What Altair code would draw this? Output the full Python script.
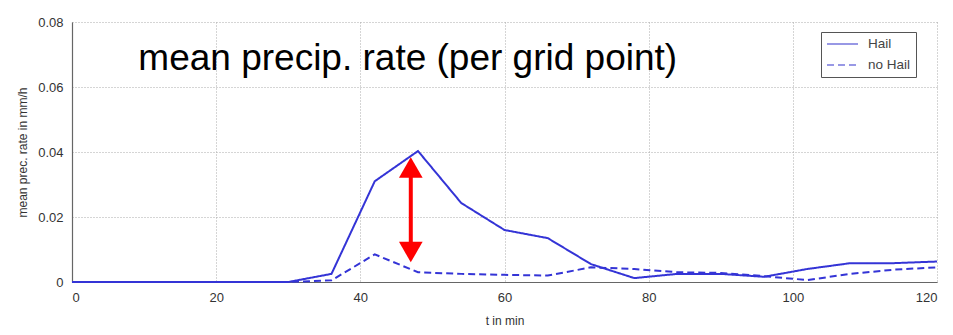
import altair as alt
import pandas as pd

t_min = [0, 6, 12, 18, 24, 30, 36, 42, 48, 54, 60, 66, 72, 78, 84, 90, 96, 102, 108, 114, 120]
hail = [0, 0, 0, 0, 0, 0, 0.0025, 0.031, 0.0403, 0.0243, 0.016, 0.0135, 0.0055, 0.0012, 0.0025, 0.0025,
        0.0016, 0.004, 0.0058, 0.0058, 0.0063]
no_hail = [0, 0, 0, 0, 0, 0, 0.0005, 0.0085, 0.003, 0.0025, 0.0022, 0.002, 0.0045, 0.004, 0.003, 0.0028,
           0.0018, 0.0006, 0.0025, 0.0038, 0.0045]
series_names = ["Hail", "no Hail"]

arrow_t = [47]
arrow_top = [0.0352]
arrow_bottom = [0.0092]

title_text = ["mean precip. rate (per grid point)"]
title_t = [9.2]
title_v = [0.0652]

rows = []
for t, a, b in zip(t_min, hail, no_hail):
    rows.append({"t": t, "v": a, "series": series_names[0]})
    rows.append({"t": t, "v": b, "series": series_names[1]})
df = pd.DataFrame(rows)

arrow_df = pd.DataFrame({"t": arrow_t, "top": arrow_top, "bottom": arrow_bottom})
title_df = pd.DataFrame({"t": title_t, "v": title_v, "label": title_text})

xscale = alt.Scale(domain=[0, 120], nice=False)
yscale = alt.Scale(domain=[0, 0.08], nice=False)

BLUE = "#3434d6"

lines = alt.Chart(df).mark_line(strokeWidth=2, color=BLUE).encode(
    x=alt.X("t:Q", scale=xscale, title="t in min",
            axis=alt.Axis(values=[0, 20, 40, 60, 80, 100, 120], format="~g")),
    y=alt.Y("v:Q", scale=yscale, title="mean prec. rate in mm/h",
            axis=alt.Axis(values=[0, 0.02, 0.04, 0.06, 0.08], format="~g")),
    strokeDash=alt.StrokeDash(
        "series:N",
        scale=alt.Scale(domain=series_names, range=[[1, 0], [7, 4]]),
        legend=alt.Legend(title=None, orient="none", legendX=749, legendY=10,
                          symbolType="stroke", symbolStrokeColor="#7777dd",
                          symbolStrokeWidth=1.5, symbolSize=961, clipHeight=14,
                          labelFontSize=13.5, labelColor="#444", labelOffset=9,
                          strokeColor="#555", padding=5, fillColor="white",
                          rowPadding=7, labelLimit=200)
    ),
)

rule = alt.Chart(arrow_df).mark_rule(color="#ff0000", strokeWidth=4).encode(
    x=alt.X("t:Q", scale=xscale),
    y=alt.Y("top:Q", scale=yscale),
    y2="bottom:Q",
)
head_top = alt.Chart(arrow_df).mark_point(shape="triangle-up", filled=True, color="#ff0000",
                                          size=560, opacity=1).encode(
    x=alt.X("t:Q", scale=xscale), y=alt.Y("top:Q", scale=yscale))
head_bottom = alt.Chart(arrow_df).mark_point(shape="triangle-down", filled=True, color="#ff0000",
                                             size=560, opacity=1).encode(
    x=alt.X("t:Q", scale=xscale), y=alt.Y("bottom:Q", scale=yscale))

title = alt.Chart(title_df).mark_text(align="left", baseline="alphabetic", fontSize=37,
                                      font="Liberation Sans", color="black").encode(
    x=alt.X("t:Q", scale=xscale), y=alt.Y("v:Q", scale=yscale), text="label:N")

chart = alt.layer(lines, rule, head_top, head_bottom, title).properties(
    width=865, height=260,
    autosize=alt.AutoSizeParams(type="none"),
    padding={"left": 64, "top": 14, "right": 8, "bottom": 45},
    background="white",
).configure_view(stroke=None).configure_axis(
    grid=True, gridDash=[1, 2], gridColor="#aaa", gridWidth=1,
    domainColor="#666", domainWidth=1.2, ticks=False,
    labelFont="Liberation Sans", labelFontSize=13, labelColor="#333", labelPadding=9,
    titleFont="Liberation Sans", titleFontSize=12, titleColor="#333", titleFontWeight="normal",
).configure_axisX(titlePadding=11).configure_axisY(titlePadding=8)

chart.save("out.html", embed_options={"renderer": "svg", "actions": False})
